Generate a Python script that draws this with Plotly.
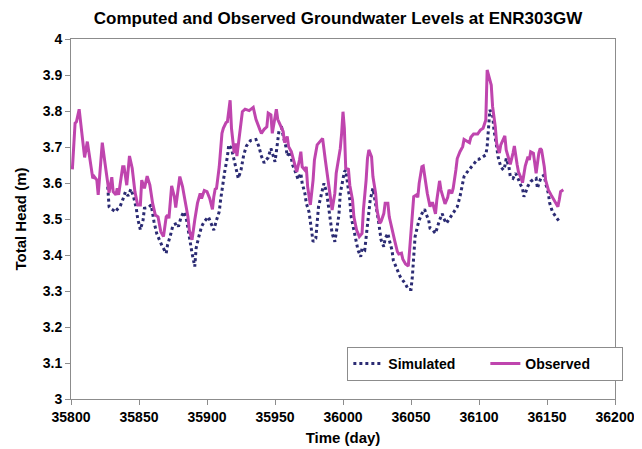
import plotly.graph_objects as go

obs_day = [35801, 35803, 35804, 35806, 35808, 35810, 35812, 35813, 35814, 35816, 35817, 35819, 35820,
           35823, 35825, 35828, 35830, 35831, 35833, 35834, 35835, 35838, 35839, 35841, 35843, 35845,
           35847, 35849, 35851, 35852, 35854, 35856, 35858, 35860, 35862, 35864, 35866, 35868, 35870,
           35871, 35872, 35874, 35876, 35877, 35880, 35882, 35884, 35886, 35887, 35889, 35891, 35893,
           35895, 35896, 35898, 35900, 35902, 35904, 35905, 35906, 35907, 35909, 35911, 35912, 35914,
           35915, 35917, 35918, 35920, 35921, 35922, 35924, 35926, 35928, 35931, 35934, 35936, 35939,
           35940, 35942, 35944, 35945, 35947, 35948, 35950, 35951, 35952, 35954, 35956, 35957, 35959,
           35960, 35962, 35964, 35966, 35968, 35969, 35970, 35972, 35973, 35974, 35976, 35978, 35979,
           35981, 35983, 35985, 35987, 35989, 35991, 35992, 35994, 35995, 35997, 35998, 35999, 36000,
           36001, 36002, 36004, 36005, 36007, 36008, 36010, 36012, 36014, 36015, 36017, 36018, 36019,
           36021, 36022, 36024, 36025, 36027, 36028, 36030, 36031, 36033, 36034, 36036, 36038, 36040,
           36041, 36043, 36044, 36046, 36048, 36049, 36051, 36052, 36054, 36055, 36056, 36058, 36059,
           36061, 36062, 36064, 36065, 36066, 36068, 36069, 36071, 36072, 36074, 36075, 36077, 36078,
           36080, 36081, 36083, 36084, 36086, 36088, 36089, 36091, 36093, 36094, 36096, 36099, 36101,
           36103, 36105, 36106, 36107, 36109, 36110, 36112, 36113, 36115, 36116, 36118, 36119, 36120,
           36122, 36123, 36125, 36126, 36128, 36129, 36131, 36132, 36134, 36135, 36136, 36137, 36138,
           36140, 36141, 36142, 36144, 36145, 36146, 36148, 36149, 36151, 36153, 36155, 36157, 36158,
           36159, 36160, 36162]
obs_head = [3.638, 3.766, 3.770, 3.805, 3.738, 3.671, 3.715, 3.690, 3.668, 3.613, 3.618, 3.608, 3.567,
            3.712, 3.655, 3.573, 3.616, 3.576, 3.567, 3.585, 3.567, 3.645, 3.645, 3.594, 3.675, 3.641,
            3.576, 3.539, 3.539, 3.608, 3.585, 3.619, 3.594, 3.544, 3.511, 3.506, 3.465, 3.451, 3.506,
            3.511, 3.502, 3.592, 3.562, 3.532, 3.618, 3.590, 3.548, 3.506, 3.469, 3.442, 3.497, 3.544,
            3.571, 3.557, 3.579, 3.576, 3.557, 3.527, 3.562, 3.583, 3.585, 3.645, 3.738, 3.752, 3.768,
            3.770, 3.830, 3.752, 3.683, 3.710, 3.675, 3.743, 3.798, 3.805, 3.801, 3.810, 3.777, 3.747,
            3.738, 3.749, 3.756, 3.794, 3.789, 3.738, 3.777, 3.805, 3.777, 3.758, 3.743, 3.712, 3.729,
            3.701, 3.687, 3.659, 3.631, 3.664, 3.687, 3.645, 3.636, 3.645, 3.590, 3.539, 3.608, 3.664,
            3.706, 3.715, 3.724, 3.664, 3.608, 3.553, 3.525, 3.571, 3.627, 3.673, 3.696, 3.738, 3.798,
            3.752, 3.641, 3.638, 3.594, 3.553, 3.506, 3.469, 3.451, 3.460, 3.525, 3.608, 3.668, 3.692,
            3.673, 3.618, 3.571, 3.525, 3.488, 3.493, 3.515, 3.544, 3.544, 3.506, 3.469, 3.440, 3.409,
            3.403, 3.405, 3.388, 3.375, 3.369, 3.414, 3.506, 3.562, 3.567, 3.560, 3.599, 3.645, 3.647,
            3.594, 3.571, 3.534, 3.544, 3.544, 3.514, 3.553, 3.606, 3.581, 3.557, 3.542, 3.560, 3.581,
            3.571, 3.585, 3.636, 3.668, 3.687, 3.701, 3.721, 3.717, 3.712, 3.727, 3.736, 3.736, 3.747,
            3.752, 3.775, 3.914, 3.900, 3.872, 3.812, 3.756, 3.710, 3.683, 3.706, 3.724, 3.731, 3.692,
            3.664, 3.652, 3.683, 3.703, 3.652, 3.631, 3.613, 3.601, 3.647, 3.664, 3.673, 3.664, 3.687,
            3.683, 3.645, 3.627, 3.683, 3.696, 3.692, 3.645, 3.608, 3.581, 3.567, 3.553, 3.542, 3.534,
            3.553, 3.576, 3.581]

sim_day = [35827, 35828, 35830, 35833, 35834, 35836, 35838, 35840, 35842, 35844, 35846, 35848, 35849,
           35851, 35853, 35854, 35857, 35859, 35861, 35863, 35865, 35867, 35870, 35871, 35873, 35875,
           35878, 35879, 35881, 35883, 35885, 35887, 35889, 35891, 35892, 35894, 35896, 35898, 35901,
           35903, 35905, 35907, 35909, 35910, 35912, 35913, 35915, 35916, 35918, 35920, 35922, 35923,
           35925, 35927, 35929, 35932, 35936, 35938, 35940, 35942, 35945, 35947, 35948, 35950, 35951,
           35953, 35955, 35956, 35958, 35959, 35961, 35963, 35965, 35967, 35969, 35970, 35972, 35973,
           35975, 35976, 35977, 35978, 35980, 35981, 35982, 35984, 35985, 35986, 35988, 35989, 35991,
           35992, 35994, 35995, 35997, 35998, 36000, 36001, 36002, 36003, 36005, 36006, 36008, 36009,
           36011, 36013, 36014, 36016, 36017, 36019, 36020, 36022, 36023, 36025, 36026, 36028, 36030,
           36031, 36033, 36034, 36036, 36037, 36039, 36040, 36042, 36044, 36046, 36048, 36050, 36051,
           36052, 36053, 36055, 36056, 36058, 36060, 36061, 36063, 36064, 36066, 36068, 36069, 36071,
           36073, 36074, 36076, 36078, 36080, 36082, 36084, 36086, 36088, 36089, 36091, 36093, 36095,
           36097, 36099, 36100, 36103, 36105, 36106, 36107, 36108, 36110, 36111, 36113, 36114, 36116,
           36118, 36119, 36120, 36122, 36123, 36125, 36127, 36129, 36130, 36132, 36133, 36134, 36136,
           36138, 36140, 36142, 36143, 36144, 36146, 36148, 36149, 36151, 36152, 36154, 36156, 36158,
           36159]
sim_head = [3.590, 3.534, 3.527, 3.520, 3.527, 3.534, 3.553, 3.575, 3.564, 3.583, 3.562, 3.530, 3.502,
            3.470, 3.497, 3.530, 3.532, 3.539, 3.493, 3.460, 3.442, 3.425, 3.405, 3.428, 3.453, 3.483,
            3.488, 3.479, 3.506, 3.520, 3.497, 3.446, 3.405, 3.368, 3.419, 3.451, 3.479, 3.493, 3.506,
            3.488, 3.469, 3.497, 3.520, 3.553, 3.608, 3.631, 3.673, 3.706, 3.696, 3.659, 3.627, 3.613,
            3.636, 3.678, 3.703, 3.718, 3.721, 3.703, 3.675, 3.656, 3.671, 3.696, 3.684, 3.659, 3.687,
            3.747, 3.752, 3.731, 3.701, 3.675, 3.687, 3.650, 3.631, 3.610, 3.627, 3.599, 3.571, 3.544,
            3.520, 3.493, 3.460, 3.437, 3.446, 3.488, 3.534, 3.567, 3.585, 3.599, 3.573, 3.544, 3.488,
            3.460, 3.437, 3.460, 3.511, 3.571, 3.608, 3.631, 3.636, 3.608, 3.553, 3.506, 3.469, 3.442,
            3.414, 3.395, 3.419, 3.414, 3.451, 3.506, 3.553, 3.585, 3.562, 3.525, 3.497, 3.442, 3.423,
            3.446, 3.460, 3.442, 3.414, 3.385, 3.370, 3.358, 3.340, 3.329, 3.319, 3.304, 3.304, 3.340,
            3.405, 3.451, 3.483, 3.497, 3.515, 3.527, 3.515, 3.497, 3.474, 3.469, 3.460, 3.474, 3.497,
            3.515, 3.502, 3.488, 3.499, 3.511, 3.520, 3.534, 3.562, 3.599, 3.618, 3.629, 3.638, 3.647,
            3.659, 3.666, 3.666, 3.673, 3.678, 3.701, 3.743, 3.803, 3.789, 3.747, 3.701, 3.673, 3.645,
            3.636, 3.647, 3.668, 3.645, 3.618, 3.613, 3.627, 3.610, 3.599, 3.585, 3.562, 3.571, 3.592,
            3.604, 3.610, 3.613, 3.585, 3.599, 3.618, 3.622, 3.599, 3.571, 3.544, 3.520, 3.508, 3.499,
            3.493]

x_ticks = [35800, 35850, 35900, 35950, 36000, 36050, 36100, 36150, 36200]
x_tick_text = ["35800", "35850", "35900", "35950", "36000", "36050", "36100", "36150", "36200"]
y_ticks = [3, 3.1, 3.2, 3.3, 3.4, 3.5, 3.6, 3.7, 3.8, 3.9, 4]
y_tick_text = ["3", "3.1", "3.2", "3.3", "3.4", "3.5", "3.6", "3.7", "3.8", "3.9", "4"]

FONT = "Liberation Sans, Arial, sans-serif"
OBS_COLOR = "#BF45AE"
SIM_COLOR = "#2B2B73"
AXIS_COLOR = "#8C8C8C"

# page body has an 8px default margin, so the figure is sized to fit the window
W, H = 634, 441

fig = go.Figure()
fig.add_trace(go.Scatter(
    x=sim_day, y=sim_head, mode="lines", name="Simulated",
    line=dict(color=SIM_COLOR, width=3, dash="3px,3px"),
))
fig.add_trace(go.Scatter(
    x=obs_day, y=obs_head, mode="lines", name="Observed",
    line=dict(color=OBS_COLOR, width=3),
))

fig.update_layout(
    width=W, height=H,
    margin=dict(l=63, r=27, t=31, b=50, autoexpand=False),
    paper_bgcolor="white", plot_bgcolor="white",
    font=dict(family=FONT, size=14, color="black", weight="bold"),
    title=dict(
        text="Computed and Observed Groundwater Levels at ENR303GW",
        font=dict(family=FONT, size=17, color="black", weight="bold"),
        x=330 / W, xanchor="center", xref="container",
        y=1 - 10 / H, yanchor="middle", yref="container",
    ),
    showlegend=True,
    legend=dict(
        orientation="h",
        x=0.508, xanchor="left", y=0.05, yanchor="bottom",
        bgcolor="white", bordercolor=AXIS_COLOR, borderwidth=1,
        font=dict(family=FONT, size=14, color="black", weight="bold"),
        entrywidth=92,
        traceorder="normal",
    ),
)

fig.update_xaxes(
    range=[35800, 36200], tickvals=x_ticks, ticktext=x_tick_text, automargin=False,
    ticks="outside", ticklen=5, tickcolor=AXIS_COLOR, tickwidth=1,
    showline=True, linecolor=AXIS_COLOR, linewidth=1, mirror=True,
    showgrid=False, zeroline=False,
    tickfont=dict(family=FONT, size=14, color="black", weight="bold"),
    title=dict(text="Time (day)", font=dict(family=FONT, size=15, color="black", weight="bold"), standoff=8),
)
fig.update_yaxes(
    range=[3, 4], tickvals=y_ticks, ticktext=y_tick_text, automargin=False,
    ticks="outside", ticklen=5, tickcolor=AXIS_COLOR, tickwidth=1,
    showline=True, linecolor=AXIS_COLOR, linewidth=1, mirror=True,
    showgrid=False, zeroline=False,
    tickfont=dict(family=FONT, size=14, color="black", weight="bold"),
    title=dict(text="Total Head (m)", font=dict(family=FONT, size=15, color="black", weight="bold"), standoff=12),
)

fig.write_html("out.html")
